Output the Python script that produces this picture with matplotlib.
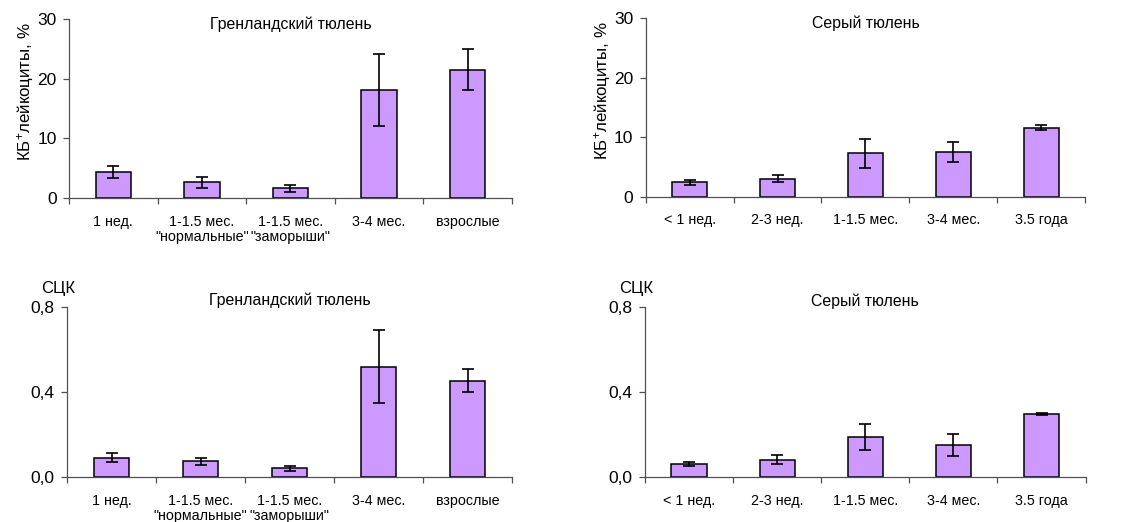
import matplotlib
matplotlib.use("Agg")
import matplotlib.pyplot as plt
import numpy as np
from matplotlib.ticker import FuncFormatter, FixedLocator

plt.rcParams['font.family'] = ['Liberation Sans', 'DejaVu Sans']
plt.rcParams['mathtext.fontset'] = 'custom'
plt.rcParams['mathtext.rm'] = 'Liberation Sans'
plt.rcParams['mathtext.it'] = 'Liberation Sans'

# data
harp_labels = ['1 нед.', '1-1.5 мес.\n"нормальные"', '1-1.5 мес.\n"заморыши"', '3-4 мес.', 'взрослые']
grey_labels = ['< 1 нед.', '2-3 нед.', '1-1.5 мес.', '3-4 мес.', '3.5 года']

harp_kb = [4.3, 2.6, 1.6, 18.1, 21.5]
harp_kb_err = [1.0, 0.9, 0.6, 6.0, 3.4]
grey_kb = [2.4, 3.0, 7.3, 7.5, 11.6]
grey_kb_err = [0.4, 0.6, 2.4, 1.7, 0.4]

harp_sck = [0.092, 0.075, 0.042, 0.519, 0.453]
harp_sck_err = [0.022, 0.016, 0.011, 0.17, 0.053]
grey_sck = [0.064, 0.083, 0.19, 0.152, 0.296]
grey_sck_err = [0.01, 0.02, 0.06, 0.05, 0.005]

bar_color = '#CC99FF'
axis_color = '#505050'

fig = plt.figure(figsize=(11.21, 5.22), dpi=100)

panels = [
    ([0.0616, 0.6207, 0.395, 0.343], harp_labels, harp_kb, harp_kb_err, 'Гренландский тюлень', 'kb'),
    ([0.5760, 0.6232, 0.392, 0.342], grey_labels, grey_kb, grey_kb_err, 'Серый тюлень', 'kb'),
    ([0.0598, 0.0856, 0.397, 0.327], harp_labels, harp_sck, harp_sck_err, 'Гренландский тюлень', 'sck'),
    ([0.5754, 0.0856, 0.393, 0.326], grey_labels, grey_sck, grey_sck_err, 'Серый тюлень', 'sck'),
]

for rect, labels, vals, errs, title, kind in panels:
    ax = fig.add_axes(rect)
    x = np.arange(len(vals))
    ax.bar(x, vals, width=0.4, color=bar_color, edgecolor='black', linewidth=1.1, zorder=2)
    ax.errorbar(x, vals, yerr=errs, fmt='none', ecolor='black', elinewidth=1.2,
                capsize=4.2, capthick=1.2, zorder=3)
    ax.set_xlim(-0.5, len(vals) - 0.5)
    ax.spines['top'].set_visible(False)
    ax.spines['right'].set_visible(False)
    for s in ['left', 'bottom']:
        ax.spines[s].set_color(axis_color)
        ax.spines[s].set_linewidth(0.9)
    ax.set_xticks(x)
    ax.set_xticklabels(labels, fontsize=10.3, linespacing=1.1)
    ax.xaxis.set_minor_locator(FixedLocator(np.arange(len(vals) + 1) - 0.5))
    ax.tick_params(axis='x', which='major', length=0, pad=12)
    ax.tick_params(axis='x', which='minor', length=4, width=0.9, color=axis_color, direction='out')
    ax.tick_params(axis='y', length=4, width=0.9, color=axis_color, labelsize=12.5, pad=5)
    if kind == 'kb':
        ax.set_ylim(0, 30)
        ax.set_yticks([0, 10, 20, 30])
        ax.set_ylabel('КБ$^{+}$лейкоциты, %', fontsize=12.2, labelpad=0.5)
        ax.yaxis.label.set_y(0.595)
        ax.text(0.5, 1.015, title, transform=ax.transAxes, ha='center', va='top', fontsize=11.4)
    else:
        ax.set_ylim(0, 0.8)
        ax.set_yticks([0, 0.4, 0.8])
        ax.yaxis.set_major_formatter(FuncFormatter(lambda v, p: ('%.1f' % v).replace('.', ',')))
        ax.text(-0.021, 1.065, 'СЦК', transform=ax.transAxes, ha='center', va='bottom', fontsize=12)
        ax.text(0.5, 1.08, title, transform=ax.transAxes, ha='center', va='top', fontsize=11.4)

fig.savefig('out.png', dpi=100)
